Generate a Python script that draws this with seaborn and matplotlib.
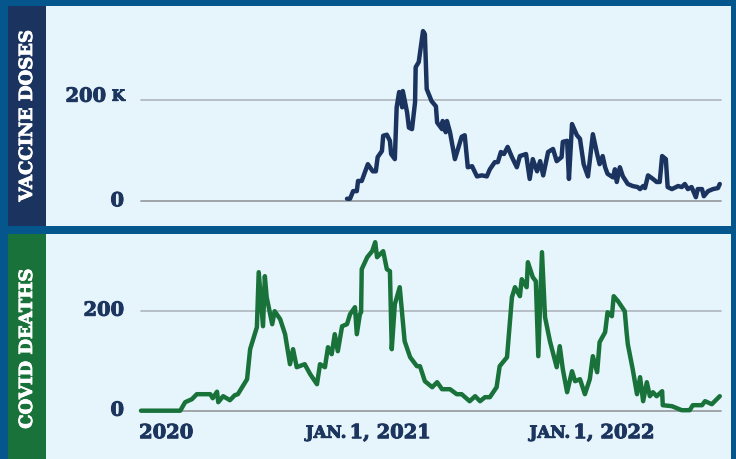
import numpy as np
import pandas as pd
import matplotlib
matplotlib.use("Agg")
import matplotlib.pyplot as plt
import matplotlib.patheffects as pe
import seaborn as sns
from matplotlib.patches import Rectangle
from matplotlib.transforms import offset_copy, blended_transform_factory

# ---------------- data ----------------
start_date = "2020-01-04"

death_day = [0, 64, 72, 83, 91, 113, 117, 124, 126, 134, 145, 153, 158, 173, 178, 189, 192, 199, 202, 205,
             214, 218, 227, 235, 243, 248, 254, 267, 276, 287, 292, 300, 305, 311, 316, 321, 328, 336, 341, 349,
             352, 357, 359, 360, 369, 377, 382, 385, 395, 401, 406, 409, 414, 422, 430, 439, 450, 455, 463, 475,
             483, 491, 504, 515, 523, 536, 545, 553, 561, 569, 580, 585, 597, 605, 610, 618, 621, 629, 631, 639,
             644, 648, 654, 659, 667, 678, 683, 688, 695, 703, 708, 716, 724, 732, 737, 744, 748, 757, 761, 768,
             771, 778, 789, 792, 794, 802, 809, 814, 819, 825, 830, 835, 841, 850, 851, 866, 882, 895, 900, 915,
             920, 931, 944]
death_val = [0, 0, 17, 23, 33, 33, 25, 38, 17, 29, 21, 31, 33, 63, 123, 167, 277, 169, 269, 227,
             173, 199, 183, 153, 93, 123, 87, 93, 73, 53, 93, 87, 127, 113, 153, 119, 169, 173, 193, 207,
             153, 193, 197, 283, 307, 319, 337, 307, 319, 283, 279, 123, 213, 247, 139, 107, 89, 89, 59, 47,
             57, 43, 43, 33, 33, 19, 29, 19, 27, 27, 47, 89, 107, 227, 247, 229, 263, 247, 297, 267,
             259, 109, 317, 187, 139, 87, 129, 83, 37, 79, 59, 63, 33, 63, 109, 77, 137, 157, 197, 189,
             229, 219, 199, 157, 133, 83, 33, 67, 19, 57, 29, 37, 29, 39, 11, 9, 1, 1, 11, 11,
             19, 13, 29]

vax_day = [336, 341, 346, 352, 354, 360, 370, 378, 383, 386, 393, 395, 401, 406, 408, 414, 417, 421, 426, 427,
           434, 437, 442, 447, 448, 453, 460, 463, 466, 474, 481, 483, 491, 492, 497, 499, 504, 512, 523, 528,
           533, 540, 548, 556, 564, 569, 577, 582, 587, 592, 598, 605, 613, 618, 628, 634, 639, 646, 651, 656,
           664, 672, 678, 686, 688, 695, 698, 703, 711, 716, 722, 729, 737, 744, 748, 753, 757, 761, 770, 773,
           776, 781, 786, 794, 802, 810, 814, 819, 822, 827, 835, 841, 846, 850, 856, 859, 866, 876, 882, 887,
           892, 898, 905, 908, 915, 918, 925, 933, 941, 944]
vax_val_k = [5, 5, 20, 20, 40, 40, 73, 59, 59, 87, 99, 129, 131, 119, 93, 83, 185, 215, 185, 217,
             175, 145, 142, 195, 264, 274, 335, 329, 221, 197, 187, 155, 142, 158, 136, 158, 136, 83, 127, 130,
             67, 69, 49, 51, 49, 63, 77, 77, 97, 93, 107, 87, 67, 89, 93, 44, 83, 59, 79, 51,
             97, 103, 79, 87, 117, 119, 44, 152, 130, 123, 73, 49, 132, 93, 73, 89, 67, 54, 47, 63,
             38, 67, 49, 34, 30, 28, 24, 30, 26, 51, 44, 38, 38, 89, 83, 28, 24, 30, 28, 34,
             24, 28, 8, 24, 24, 10, 20, 24, 26, 34]

ytick_vals = [0, 200]
vax_tick_labels = ["0", "200"]
death_tick_labels = ["0", "200"]
x_tick_dates = ["2020-01-01", "2021-01-01", "2022-01-01"]
x_tick_small = ["", "JAN.", "JAN."]
x_tick_main = ["2020", "1, 2021", "1, 2022"]
panel_titles = ["VACCINE DOSES", "COVID DEATHS"]

# ---------------- styling ----------------
FRAME = "#06568E"
PANEL = "#E6F4FC"
NAVY = "#1A345F"
GREEN = "#18723A"
TEXT = "#1C355E"
GRID = "#B4BBC2"
ZERO = "#9A9EA3"
FONT = "DejaVu Serif"

sns.set_theme(style="white")
plt.rcParams["font.family"] = [FONT, "DejaVu Sans"]

W, H = 736, 460
fig = plt.figure(figsize=(W / 100, H / 100), dpi=100)
fig.patch.set_facecolor(FRAME)

heavy_txt = [pe.withStroke(linewidth=0.7, foreground=TEXT)]
heavy_white = [pe.withStroke(linewidth=0.6, foreground="white")]

def frect(x0, y0, x1, y1, color):
    fig.patches.append(Rectangle((x0 / W, 1 - y1 / H), (x1 - x0) / W, (y1 - y0) / H,
                                 transform=fig.transFigure, facecolor=color, edgecolor="none", zorder=-10))

frect(8, 7, 731, 227, PANEL)
frect(8, 7, 46, 227, NAVY)
frect(8, 235, 731, 460, PANEL)
frect(8, 235, 46, 460, GREEN)

fig.text(27 / W, 1 - 117 / H, panel_titles[0], rotation=90, color="white", fontsize=13,
         fontweight="bold", ha="center", va="center", family=FONT, path_effects=heavy_white)
fig.text(27 / W, 1 - 350 / H, panel_titles[1], rotation=90, color="white", fontsize=13,
         fontweight="bold", ha="center", va="center", family=FONT, path_effects=heavy_white)

t0 = pd.Timestamp(start_date)
xlim = (t0, t0 + pd.Timedelta(days=946))

vax = pd.DataFrame({"date": t0 + pd.to_timedelta(vax_day, unit="D"), "doses": vax_val_k})
deaths = pd.DataFrame({"date": t0 + pd.to_timedelta(death_day, unit="D"), "deaths": death_val})

# axes: pixel geometry
ax_l, ax_r = 141, 721
ax1 = fig.add_axes([ax_l / W, 1 - 222.6 / H, (ax_r - ax_l) / W, (222.6 - 19.4) / H])
ax2 = fig.add_axes([ax_l / W, 1 - 426.7 / H, (ax_r - ax_l) / W, (426.7 - 236.7) / H])

sns.lineplot(data=vax, x="date", y="doses", ax=ax1, color=NAVY, lw=3.2, zorder=3,
             solid_joinstyle="round", solid_capstyle="round")
sns.lineplot(data=deaths, x="date", y="deaths", ax=ax2, color=GREEN, lw=3.2, zorder=3,
             solid_joinstyle="round", solid_capstyle="round")

for ax, ylim in ((ax1, (-40, 360)), (ax2, (-30, 350))):
    ax.set_facecolor("none")
    ax.set_xlim(*xlim)
    ax.set_ylim(*ylim)
    for s in ax.spines.values():
        s.set_visible(False)
    ax.set_xticks([])
    ax.set_yticks([])
    ax.set_xlabel("")
    ax.set_ylabel("")
    ax.axhline(200, color=GRID, lw=1.3, zorder=1)
    ax.axhline(0, color=ZERO, lw=1.3, zorder=1)
    for ln in ax.lines:
        ln.set_clip_on(False)

txt_kw = dict(fontweight="bold", color=TEXT, family=FONT, path_effects=heavy_txt)

# y tick labels
for ax, labels in ((ax1, vax_tick_labels), (ax2, death_tick_labels)):
    tr = blended_transform_factory(ax.transAxes, ax.transData)
    for v, lab in zip(ytick_vals, labels):
        if ax is ax1 and v == 200:
            ax.text(0, v, lab, transform=offset_copy(tr, fig, x=-35, y=3, units="dots"),
                    ha="right", va="center", fontsize=14, **txt_kw)
            ax.text(0, v, "K", transform=offset_copy(tr, fig, x=-16, y=3, units="dots"),
                    ha="right", va="center", fontsize=11, **txt_kw)
        else:
            ax.text(0, v, lab, transform=offset_copy(tr, fig, x=-17, y=0, units="dots"),
                    ha="right", va="center", fontsize=14, **txt_kw)

# x tick labels
trx = blended_transform_factory(ax2.transData, ax2.transAxes)
yb = -7.5 / 190
for d, small, main in zip(x_tick_dates, x_tick_small, x_tick_main):
    xd = pd.Timestamp(d)
    if small:
        ax2.text(xd, yb, small, transform=offset_copy(trx, fig, x=-17, y=0, units="dots"),
                 ha="right", va="center", fontsize=12, **txt_kw)
        ax2.text(xd, yb, main, transform=offset_copy(trx, fig, x=-14, y=0, units="dots"),
                 ha="left", va="center", fontsize=14, **txt_kw)
    else:
        ax2.text(xd, yb, main, transform=offset_copy(trx, fig, x=0, y=0, units="dots"),
                 ha="left", va="center", fontsize=14, **txt_kw)

fig.savefig("out.png", dpi=100, facecolor=fig.get_facecolor())
